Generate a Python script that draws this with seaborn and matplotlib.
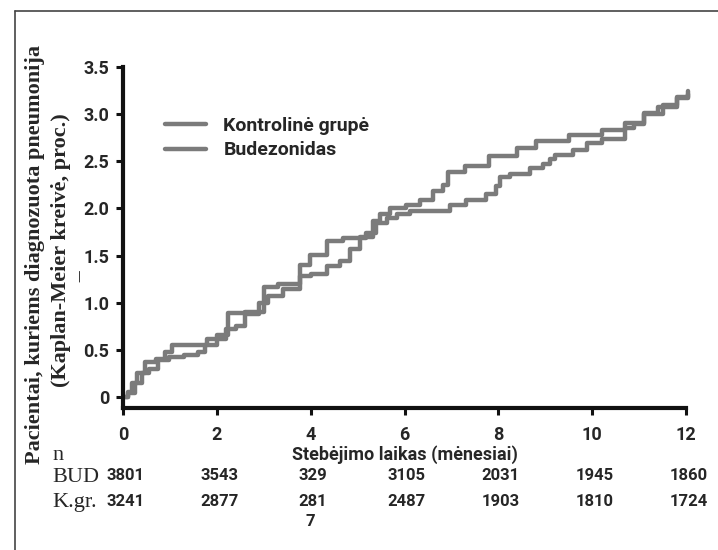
import numpy as np
import pandas as pd
import matplotlib.pyplot as plt
from matplotlib.lines import Line2D
import seaborn as sns

# Kaplan-Meier curves (months, % with pneumonia)
kontr_t = [0, 0.1, 0.25, 0.4, 0.55, 0.75, 0.98, 1.3, 1.6, 1.75, 2.0, 2.2, 2.4, 2.6, 2.9, 3.1,
           3.4, 3.77, 4.0, 4.34, 4.63, 4.84, 5.05, 5.33, 5.47, 5.69, 6.04, 6.32, 6.6, 6.82,
           6.93, 7.3, 7.8, 8.4, 8.8, 9.5, 10.2, 10.7, 11.1, 11.4, 11.8, 12.05]
kontr_y = [0, 0.04, 0.15, 0.25, 0.30, 0.39, 0.42, 0.45, 0.48, 0.55, 0.62, 0.72, 0.75, 0.88, 1.0, 1.07,
           1.15, 1.28, 1.30, 1.39, 1.44, 1.57, 1.70, 1.87, 1.94, 2.0, 2.04, 2.09, 2.18, 2.25,
           2.39, 2.45, 2.56, 2.64, 2.71, 2.78, 2.83, 2.91, 3.01, 3.08, 3.18, 3.21]

bud_t = [0, 0.1, 0.2, 0.3, 0.47, 0.7, 0.9, 1.05, 1.8, 2.0, 2.24, 2.6, 3.0, 3.3, 3.77, 3.99,
         4.34, 4.69, 5.19, 5.4, 5.62, 5.83, 6.11, 6.96, 7.32, 7.74, 7.95, 8.04, 8.25, 8.67,
         8.96, 9.1, 9.2, 9.6, 9.9, 10.2, 10.7, 10.9, 11.1, 11.5, 11.8, 12.05]
bud_y = [0, 0.05, 0.15, 0.25, 0.37, 0.40, 0.48, 0.55, 0.62, 0.66, 0.89, 0.90, 1.17, 1.20, 1.40, 1.51,
         1.65, 1.69, 1.74, 1.84, 1.90, 1.94, 1.97, 2.04, 2.09, 2.15, 2.24, 2.33, 2.36, 2.43,
         2.47, 2.52, 2.57, 2.62, 2.69, 2.74, 2.85, 2.90, 3.0, 3.1, 3.17, 3.25]

groups = ['Kontrolinė grupė', 'Budezonidas']

# numbers at risk
n_months = [0, 2, 4, 6, 8, 10, 12]
n_bud = ['3801', '3543', '329', '3105', '2031', '1945', '1860']
n_kgr = ['3241', '2877', '281', '2487', '1903', '1810', '1724']

df = pd.concat([
    pd.DataFrame({'t': kontr_t, 'y': kontr_y, 'grupe': groups[0]}),
    pd.DataFrame({'t': bud_t, 'y': bud_y, 'grupe': groups[1]}),
])

sns.set_style("ticks")
sans = ['Roboto', 'DejaVu Sans']
serif = ['Liberation Serif', 'DejaVu Serif']
grey = '#7b7b7b'

W, H = 718, 550
fig = plt.figure(figsize=(7.18, 5.5), dpi=100)
ax = fig.add_axes([123/W, 1-408/H, (686-123)/W, (408-67)/H])

sns.lineplot(data=df, x='t', y='y', hue='grupe', palette={g: grey for g in groups},
             estimator=None, sort=False, drawstyle='steps-post', linewidth=3.2,
             legend=False, ax=ax, clip_on=False)

ax.set_xlim(0, 12)
ax.set_ylim(-0.117, 3.5)
ax.set_xticks(n_months)
ax.set_xticklabels([str(m) for m in n_months], fontsize=13, fontweight='bold', family=sans)
ax.set_yticks([0, 0.5, 1.0, 1.5, 2.0, 2.5, 3.0, 3.5])
ax.set_yticklabels(['0', '0.5', '1.0', '1.5', '2.0', '2.5', '3.0', '3.5'],
                   fontsize=13, fontweight='bold', family=sans)
ax.tick_params(axis='both', width=2.2, length=5, color='#111111')
ax.tick_params(axis='x', pad=8)
ax.tick_params(axis='y', pad=5)
for s in ['left', 'bottom']:
    ax.spines[s].set_linewidth(3)
    ax.spines[s].set_color('#111111')
sns.despine(ax=ax)
ax.set_xlabel('')
ax.set_ylabel('')

handles = [Line2D([], [], color=grey, lw=3.2) for _ in groups]
ax.legend(handles, groups, loc='upper left', bbox_to_anchor=(165/W, 1-117/H),
          bbox_transform=fig.transFigure, borderaxespad=0, borderpad=0, frameon=False,
          handlelength=2.1, handletextpad=0.9, labelspacing=0.33,
          prop={'family': sans, 'weight': 'bold', 'size': 14})

fig.text(405/W, 1-455/H, 'Stebėjimo laikas (mėnesiai)', ha='center', va='center',
         fontsize=13, fontweight='bold', family=sans)

fig.text(35/W, 1-255/H, 'Pacientai, kuriems diagnozuota pneumonija', rotation=90,
         ha='center', va='center', fontsize=16, fontweight='bold', family=serif)
fig.text(61/W, 1-250/H, '(Kaplan-Meier kreivė, proc.)', rotation=90,
         ha='center', va='center', fontsize=16, fontweight='bold', family=serif)
fig.text(80/W, 1-276/H, '—', rotation=90, ha='center', va='center', fontsize=9, color='#333333')

fig.text(52/W, 1-455/H, 'n', ha='left', va='center', fontsize=16, family=serif)
fig.text(52/W, 1-478/H, 'BUD', ha='left', va='center', fontsize=16, family=serif)
fig.text(52/W, 1-502/H, 'K.gr.', ha='left', va='center', fontsize=16, family=serif)

trans = ax.get_xaxis_transform()
for m, b, k in zip(n_months, n_bud, n_kgr):
    ax.text(m + 0.05, -(476-408)/341, b, transform=trans, ha='center', va='center',
            fontsize=12, fontweight='bold', family=sans)
    ax.text(m + 0.05, -(501-408)/341, k, transform=trans, ha='center', va='center',
            fontsize=12, fontweight='bold', family=sans)
ax.text(4.0, -(521-408)/341, '7', transform=trans, ha='center', va='center',
        fontsize=12, fontweight='bold', family=sans)

# frame around the figure (only left and top are visible in the source)
fig.add_artist(Line2D([15/W, 15/W], [0, 1-11/H], color='#444444', lw=1.2))
fig.add_artist(Line2D([15/W, 1], [1-11/H, 1-11/H], color='#444444', lw=1.2))

fig.savefig('out.png', dpi=100)
